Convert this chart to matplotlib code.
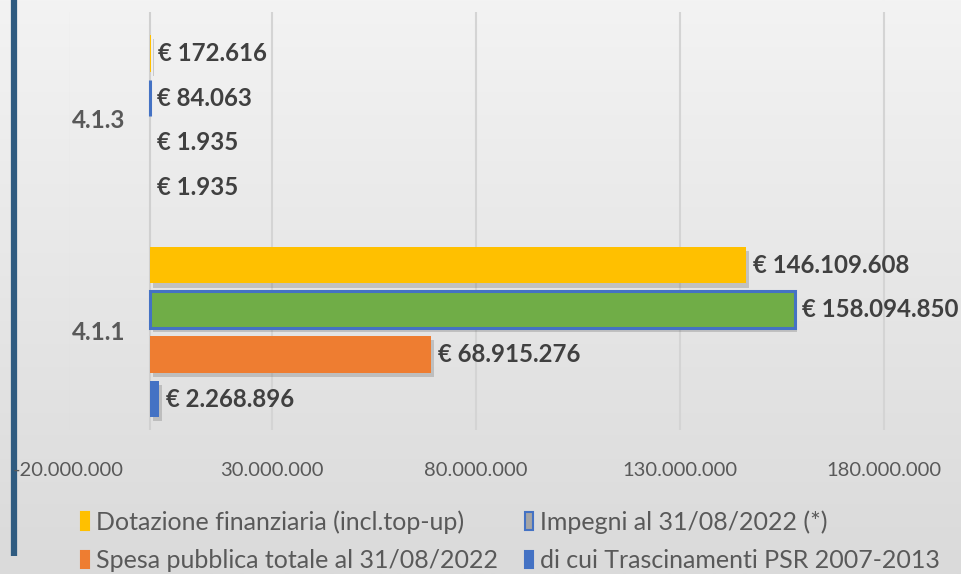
import matplotlib.pyplot as plt
import matplotlib.patheffects as pe
from matplotlib.patches import Patch
import numpy as np

plt.rcParams['font.family'] = ['Lato', 'DejaVu Sans']

# data
categories = ['4.1.1', '4.1.3']
series = ['Dotazione finanziaria (incl.top-up)', 'Impegni al 31/08/2022 (*)',
          'Spesa pubblica totale al 31/08/2022', 'di cui Trascinamenti PSR 2007-2013']
dotazione = [146109608, 172616]
impegni = [158094850, 84063]
spesa = [68915276, 1935]
trascinamenti = [2268896, 1935]
xticks = [-20000000, 30000000, 80000000, 130000000, 180000000]

values = [dotazione, impegni, spesa, trascinamenti]
faces = ['#FFC000', '#70AD47', '#EE7D31', '#4472C4']
edges = ['none', '#4472C4', 'none', 'none']
legend_faces = ['#FFC000', '#A5A5A5', '#EE7D31', '#4472C4']

def eur(v):
    return '€ ' + f'{v:,}'.replace(',', '.')

fig = plt.figure(figsize=(9.61, 5.74), dpi=100)

# background gradient
bg = fig.add_axes([0, 0, 1, 1], zorder=-10)
grad = np.linspace(0, 1, 256).reshape(-1, 1)
bg.imshow(grad, aspect='auto', cmap=plt.matplotlib.colors.LinearSegmentedColormap.from_list(
    'g', ['#f3f3f3', '#dadada']), extent=[0, 1, 0, 1], transform=bg.transAxes)
bg.axis('off')
# dark vertical line on the left
bg.plot([13.5 / 961, 13.5 / 961], [1, 1 - 556 / 574], color='#2f5b80', lw=4.5,
        transform=bg.transAxes, solid_capstyle='butt')

ax = fig.add_axes([68.5 / 961, 144 / 574, 888.8 / 961, 418 / 574])
ax.set_facecolor('none')

step = 0.211
height = 0.1726
y = np.arange(len(categories))
shadow = [pe.SimplePatchShadow(offset=(2, -3), alpha=0.25, shadow_rgbFace='#555555'), pe.Normal()]

for i, vals in enumerate(values):
    pos = y + (1.5 - i) * step
    bars = ax.barh(pos, vals, height=height, color=faces[i], edgecolor=edges[i],
                   linewidth=2.2 if edges[i] != 'none' else 0, zorder=3)
    for b in bars:
        b.set_path_effects(shadow)
    for p, v in zip(pos, vals):
        ax.annotate(eur(v), (v, p), xytext=(5, 0), textcoords='offset points',
                    ha='left', va='center', fontsize=17.3, fontweight='bold',
                    color='#404040', zorder=5, annotation_clip=False)

ax.set_xlim(-20000000, 198000000)
ax.set_ylim(-0.463, 1.513)
ax.set_xticks(xticks)
ax.set_xticklabels([f'{t:,}'.replace(',', '.') for t in xticks], fontsize=14.5, color='#595959')
ax.tick_params(axis='x', length=0, pad=23)
ax.set_yticks([])
for t in xticks:
    ax.axvline(t, color='#d4d4d4', lw=1.5, zorder=1)
ax.axvline(0, color='#d0d0d0', lw=1.5, zorder=1)
for s in ax.spines.values():
    s.set_visible(False)

for cy, c in zip(y, categories):
    ax.annotate(c, (0, cy), xytext=(-18, 0), textcoords='offset points', ha='right',
                va='center', fontsize=17.5, fontweight='bold', color='#595959')

handles = [Patch(facecolor=legend_faces[i], edgecolor=edges[i] if edges[i] != 'none' else legend_faces[i],
                 linewidth=1.5, label=series[i]) for i in [0, 2, 1, 3]]
fig.legend(handles=handles, ncol=2, loc='upper left', bbox_to_anchor=(71 / 961, 1 - 500 / 574),
           frameon=False, fontsize=18, handlelength=0.33, handleheight=0.7, handletextpad=0.25,
           columnspacing=1.1, labelspacing=0.62, labelcolor='#595959', borderaxespad=0)

fig.savefig('out.png', dpi=100)
